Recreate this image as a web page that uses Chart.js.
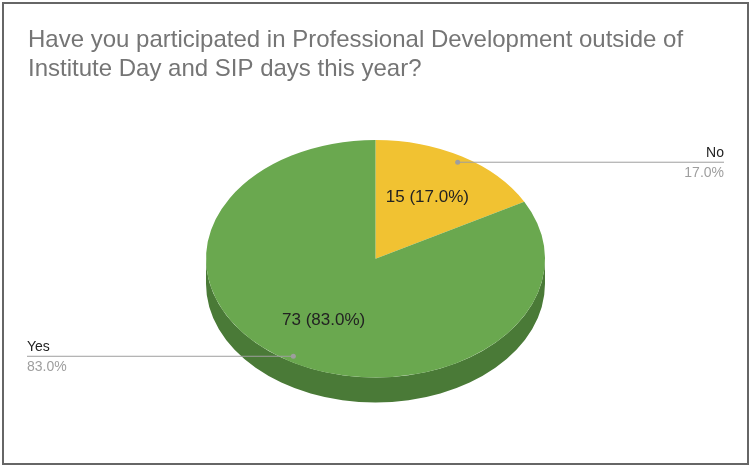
<!DOCTYPE html>
<html>
<head>
<meta charset="utf-8">
<script src="https://cdn.jsdelivr.net/npm/chart.js@4.4.1/dist/chart.umd.min.js"></script>
<style>
  html, body { margin: 0; padding: 0; background: #fff; }
  #wrap { width: 751px; height: 466px; position: relative; }
</style>
</head>
<body>
<div id="wrap"><canvas id="pie"></canvas></div>
<script>
// datos del grafico
var titulo = ["Have you participated in Professional Development outside of",
              "Institute Day and SIP days this year?"];
var categorias = ["No", "Yes"];
var valores = [15, 73];
var colores = ['#f1c232', '#6aa84f'];
var coloresLado = ['#b8921c', '#4a7a37'];

var FUENTE = "'Liberation Sans', Arial, sans-serif";
var RADIO = 169.5;
var K = 0.7006;      // aplastado vertical del pastel
var PROF = 25;       // grosor del lado 3D

var total = valores.reduce(function (a, b) { return a + b; }, 0);

// marco gris alrededor
var marco = {
    id: 'marco',
    beforeDraw: function (chart) {
        var ctx = chart.ctx;
        ctx.save();
        ctx.strokeStyle = '#666';
        ctx.lineWidth = 2;
        ctx.strokeRect(3, 3, 745, 461);
        ctx.restore();
    }
};

// pastel 3D: lado oscuro + aplastar la cara de arriba
var pastel3d = {
    id: 'pastel3d',
    beforeDatasetsDraw: function (chart) {
        var ctx = chart.ctx;
        var arcs = chart.getDatasetMeta(0).data;
        var cx = arcs[0].x, cy = arcs[0].y, r = arcs[0].outerRadius;
        ctx.save();
        arcs.forEach(function (arc, i) {
            var s = arc.startAngle, e = arc.endAngle;
            // partes de la mitad de abajo (0..PI, y cada 2PI)
            for (var off = -2 * Math.PI; off <= 2 * Math.PI; off += 2 * Math.PI) {
                var a = Math.max(s, off), b = Math.min(e, off + Math.PI);
                if (b <= a) continue;
                ctx.beginPath();
                ctx.ellipse(cx, cy, r, r * K, 0, a, b);
                ctx.ellipse(cx, cy + PROF, r, r * K, 0, b, a, true);
                ctx.closePath();
                ctx.fillStyle = coloresLado[i];
                ctx.fill();
            }
        });
        ctx.translate(cx, cy);
        ctx.scale(1, K);
        ctx.translate(-cx, -cy);
    },
    afterDatasetsDraw: function (chart) {
        var ctx = chart.ctx;
        ctx.restore();

        var arcs = chart.getDatasetMeta(0).data;
        var area = chart.chartArea;
        ctx.save();
        arcs.forEach(function (arc, i) {
            var m = (arc.startAngle + arc.endAngle) / 2;
            var r = arc.outerRadius;
            var pct = (valores[i] / total * 100).toFixed(1) + '%';

            // etiqueta adentro
            ctx.font = '17px ' + FUENTE;
            ctx.fillStyle = '#222';
            ctx.textAlign = 'center';
            ctx.textBaseline = 'middle';
            ctx.fillText(valores[i] + ' (' + pct + ')',
                arc.x + 0.6 * r * Math.cos(m), arc.y + 0.6 * r * K * Math.sin(m));

            // linea guia y etiqueta afuera
            var px = arc.x + 0.95 * r * Math.cos(m);
            var py = arc.y + 0.95 * r * K * Math.sin(m);
            var derecha = Math.cos(m) > 0;
            var tx = derecha ? area.right + 1 : area.left - 1;
            ctx.strokeStyle = '#9e9e9e';
            ctx.lineWidth = 1;
            ctx.beginPath();
            ctx.moveTo(px, py + 0.5);
            ctx.lineTo(tx, py + 0.5);
            ctx.stroke();
            ctx.fillStyle = '#9e9e9e';
            ctx.beginPath();
            ctx.arc(px, py + 0.5, 2.5, 0, 2 * Math.PI);
            ctx.fill();

            ctx.font = '14px ' + FUENTE;
            ctx.textAlign = derecha ? 'right' : 'left';
            ctx.fillStyle = '#222';
            ctx.fillText(categorias[i], tx, py - 9);
            ctx.fillStyle = '#9e9e9e';
            ctx.fillText(pct, tx, py + 11);
        });
        ctx.restore();
    }
};

var ctx1 = document.getElementById("pie").getContext('2d');
var miPastel = new Chart(ctx1, {
    type: 'pie',
    data: {
        labels: categorias,
        datasets: [{
            data: valores,
            backgroundColor: colores,
            borderWidth: 0,
            radius: RADIO,
        }],
    },
    options: {
        responsive: true,
        maintainAspectRatio: false,
        animation: false,
        events: [],
        layout: { padding: { left: 28, right: 28, top: 0, bottom: 42.7 } },
        plugins: {
            legend: { display: false },
            tooltip: { enabled: false },
            title: {
                display: true,
                text: titulo,
                align: 'start',
                color: '#757575',
                font: { family: FUENTE, size: 24, weight: 'normal', lineHeight: 29 / 24 },
                padding: { top: 26.2, bottom: 10 },
            },
        },
    },
    plugins: [marco, pastel3d],
});
</script>
</body>
</html>
